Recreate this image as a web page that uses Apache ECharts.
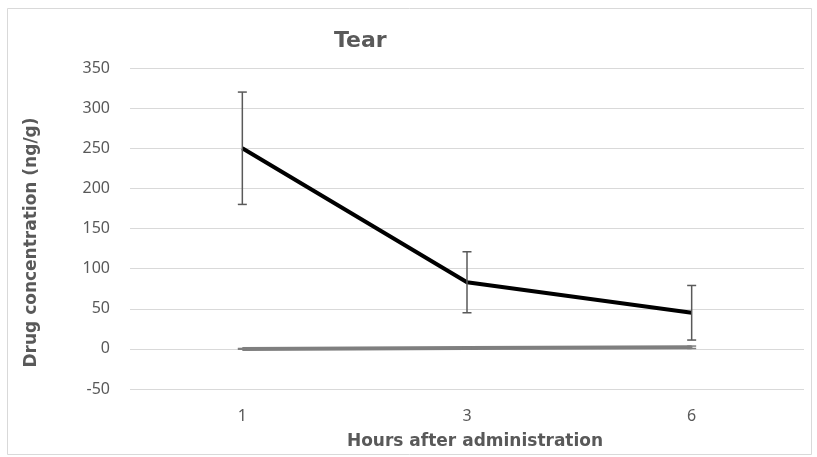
<!DOCTYPE html>
<html><head><meta charset="utf-8">
<script src="https://cdn.jsdelivr.net/npm/echarts@6/dist/echarts.min.js"></script>
<style>html,body{margin:0;padding:0;background:#fff}#c{width:817px;height:457px}</style>
</head><body><div id="c"></div>
<script>
var categories = ['1', '3', '6'];
var tearMean = [250, 83, 45];
var tearErr = [70, 38, 34];
var controlMean = [0, 1, 2];
var controlErr = [0.5, 1, 1.5];
var yTicks = {min: -50, max: 350, interval: 50};

var FONT = "'Noto Sans', 'DejaVu Sans', sans-serif";
var BFONT = "'DejaVu Sans', sans-serif";
function errData(mean, err) {
  return mean.map(function (m, i) { return [i, m - err[i], m + err[i]]; });
}
function errSeries(mean, err, color) {
  return {
    type: 'custom', z: 5,
    data: errData(mean, err),
    renderItem: function (params, api) {
      var lo = api.coord([api.value(0), api.value(1)]);
      var hi = api.coord([api.value(0), api.value(2)]);
      var w = 4.5;
      var st = {stroke: color, lineWidth: 1.5};
      return {type: 'group', children: [
        {type: 'line', shape: {x1: lo[0], y1: lo[1], x2: hi[0], y2: hi[1]}, style: st},
        {type: 'line', shape: {x1: lo[0] - w, y1: lo[1], x2: lo[0] + w, y2: lo[1]}, style: st},
        {type: 'line', shape: {x1: hi[0] - w, y1: hi[1], x2: hi[0] + w, y2: hi[1]}, style: st}
      ]};
    }
  };
}
var chart = echarts.init(document.getElementById('c'), null, {renderer: 'canvas'});
chart.setOption({
  animation: false,
  backgroundColor: '#fff',
  graphic: [{type: 'rect', shape: {x: 7.5, y: 8.5, width: 804, height: 446}, style: {fill: 'none', stroke: '#d9d9d9', lineWidth: 1}, silent: true}],
  title: {text: 'Tear', left: 329, top: 25, textStyle: {fontFamily: BFONT, fontWeight: 'bold', fontSize: 22, color: '#595959'}},
  grid: {left: 130, right: 13, top: 68, bottom: 68, containLabel: false},
  xAxis: {
    type: 'category', data: categories, boundaryGap: true,
    axisLine: {show: false}, axisTick: {show: false},
    axisLabel: {fontFamily: FONT, fontSize: 16, color: '#595959', margin: 19},
    name: 'Hours after administration', nameLocation: 'middle', nameGap: 44,
    nameTextStyle: {fontFamily: BFONT, fontWeight: 'bold', fontSize: 17, color: '#595959', padding: [0, 0, 0, 16]}
  },
  yAxis: {
    type: 'value', min: yTicks.min, max: yTicks.max, interval: yTicks.interval,
    axisLine: {show: false}, axisTick: {show: false},
    splitLine: {lineStyle: {color: '#d9d9d9', width: 1}},
    axisLabel: {fontFamily: FONT, fontSize: 16, color: '#595959', margin: 20},
    name: 'Drug concentration (ng/g)', nameLocation: 'middle', nameGap: 90, nameRotate: 90,
    nameTextStyle: {fontFamily: BFONT, fontWeight: 'bold', fontSize: 17, color: '#595959', padding: [0, 28, 0, 0]}
  },
  series: [
    {type: 'line', data: controlMean, symbol: 'none', lineStyle: {color: '#7f7f7f', width: 4}, z: 3},
    errSeries(controlMean, controlErr, '#7f7f7f'),
    {type: 'line', data: tearMean, symbol: 'none', lineStyle: {color: '#000', width: 4}, z: 4},
    errSeries(tearMean, tearErr, '#595959')
  ]
});
</script></body></html>
